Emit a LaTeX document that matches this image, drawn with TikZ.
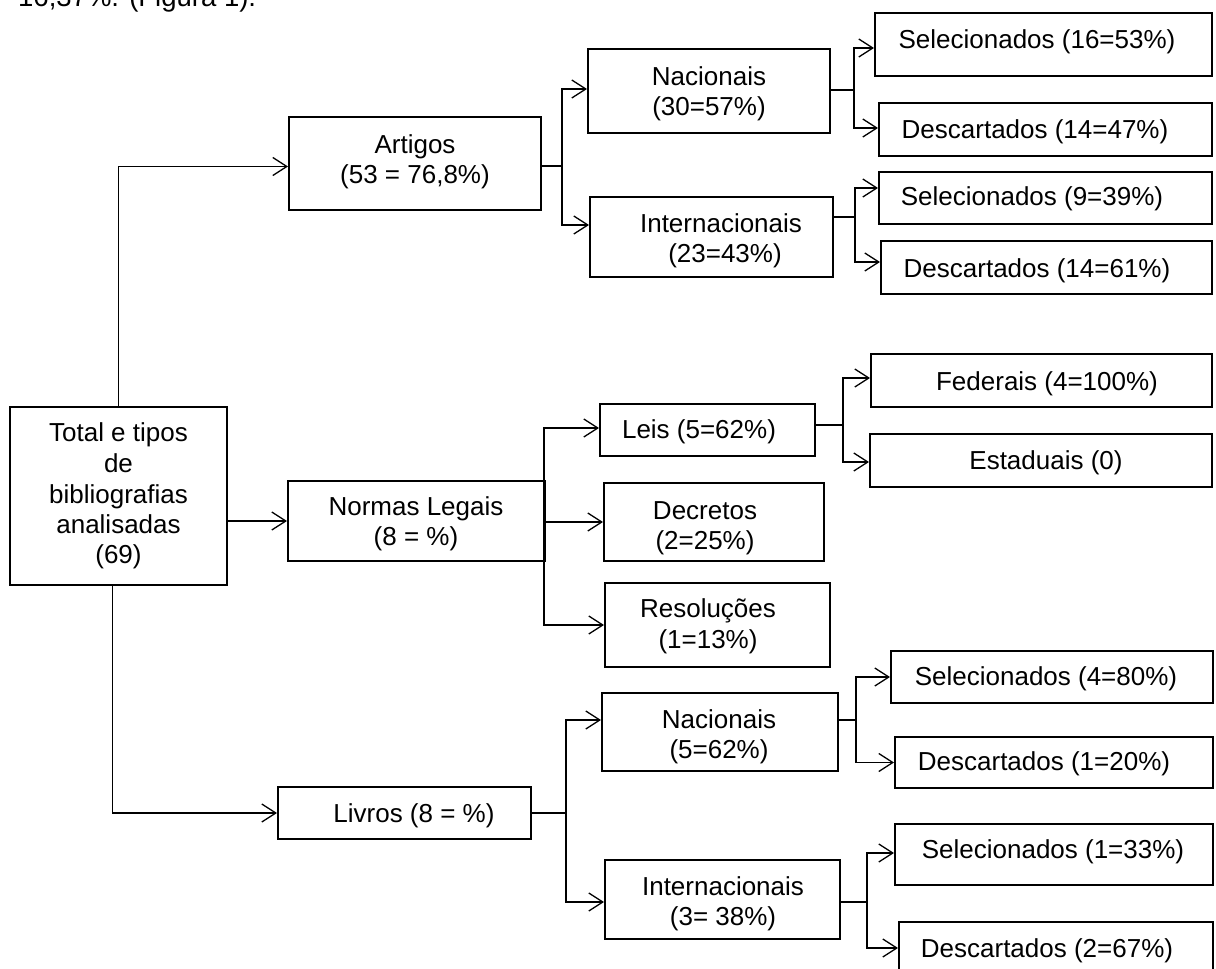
\documentclass[tikz,border=0pt]{standalone}
\usepackage{fontspec}
\setmainfont{Liberation Sans}
\usetikzlibrary{arrows.meta}
\tikzset{
  boxst/.style={draw, line width=2pt, inner sep=0pt, fill=white},
  txt/.style={font=\fontsize{26}{30}\selectfont, inner sep=0pt, anchor=base},
  conn/.style={line width=1.3pt},
  arr/.style={line width=1.3pt, -{Straight Barb[length=14pt,width=18pt]}},
  stub/.style={line width=2.3pt}
}
\begin{document}
\begin{tikzpicture}[x=1pt,y=-1pt]
\useasboundingbox (0,0) rectangle (1216,969);
\clip (0,0) rectangle (1216,969);
\fill[white] (0,0) rectangle (1216,969);

% top text line (cut off)
\node[txt, font=\fontsize{27.5}{30}\selectfont, anchor=base west] (toptxt) at (18,6) {16,37\%. (Figura 1).};

% boxes
\node[boxst, minimum width=217pt, minimum height=178pt] (total) at (118.5,496) {};
\node[boxst, minimum width=252pt, minimum height=93pt] (art) at (415,163.5) {};
\node[boxst, minimum width=257pt, minimum height=80pt] (norm) at (416.5,521) {};
\node[boxst, minimum width=253pt, minimum height=52pt] (liv) at (404.5,813) {};
\node[boxst, minimum width=242pt, minimum height=84pt] (nac1) at (709,91) {};
\node[boxst, minimum width=243pt, minimum height=80pt] (int1) at (711.5,237) {};
\node[boxst, minimum width=337pt, minimum height=63pt] (sel16) at (1043.5,44.5) {};
\node[boxst, minimum width=333pt, minimum height=53pt] (des14a) at (1045.5,129.5) {};
\node[boxst, minimum width=333pt, minimum height=52pt] (sel9) at (1045.5,198) {};
\node[boxst, minimum width=331pt, minimum height=53pt] (des14b) at (1046.5,267.5) {};
\node[boxst, minimum width=215pt, minimum height=52pt] (leis) at (707.5,430) {};
\node[boxst, minimum width=220pt, minimum height=78pt] (dec) at (714,522) {};
\node[boxst, minimum width=225pt, minimum height=84pt] (res) at (717.5,625) {};
\node[boxst, minimum width=341pt, minimum height=53pt] (fed) at (1041.5,380.5) {};
\node[boxst, minimum width=342pt, minimum height=53pt] (est) at (1041,460.5) {};
\node[boxst, minimum width=236pt, minimum height=78pt] (nac2) at (720,732) {};
\node[boxst, minimum width=235pt, minimum height=79pt] (int2) at (722.5,899.5) {};
\node[boxst, minimum width=322pt, minimum height=52pt] (sel4) at (1052,677) {};
\node[boxst, minimum width=318pt, minimum height=51pt] (des1) at (1054,762.5) {};
\node[boxst, minimum width=318pt, minimum height=61pt] (sel1) at (1054,854.5) {};
\node[boxst, minimum width=314pt, minimum height=68pt] (des2) at (1056,956) {};

% texts
\node[txt] (t1a) at (118.5,441) {Total e tipos};
\node[txt] (t1b) at (118.5,472) {de};
\node[txt] (t1c) at (118.5,503) {bibliografias};
\node[txt] (t1d) at (118.5,533) {analisadas};
\node[txt] (t1e) at (118.5,563) {(69)};
\node[txt] (tarta) at (415,153) {Artigos};
\node[txt] (tartb) at (415,183) {(53 = 76,8\%)};
\node[txt] (tnorma) at (416,515) {Normas Legais};
\node[txt] (tnormb) at (416,545) {(8 = \%)};
\node[txt] (tliv) at (414,822) {Livros (8 = \%)};
\node[txt] (tnac1a) at (709,85) {Nacionais};
\node[txt] (tnac1b) at (709,115) {(30=57\%)};
\node[txt] (tint1a) at (721,232) {Internacionais};
\node[txt] (tint1b) at (725,262) {(23=43\%)};
\node[txt] (tsel16) at (1037,48) {Selecionados (16=53\%)};
\node[txt] (tdes14a) at (1035,138) {Descartados (14=47\%)};
\node[txt] (tsel9) at (1032,205) {Selecionados (9=39\%)};
\node[txt] (tdes14b) at (1037,277) {Descartados (14=61\%)};
\node[txt] (tleis) at (699,438) {Leis (5=62\%)};
\node[txt] (tdeca) at (705,519) {Decretos};
\node[txt] (tdecb) at (705,549) {(2=25\%)};
\node[txt] (tresa) at (708,617) {Resoluções};
\node[txt] (tresb) at (708,648) {(1=13\%)};
\node[txt] (tfed) at (1047,390) {Federais (4=100\%)};
\node[txt] (test) at (1046,469) {Estaduais (0)};
\node[txt] (tnac2a) at (719,728) {Nacionais};
\node[txt] (tnac2b) at (719,758) {(5=62\%)};
\node[txt] (tint2a) at (723,895) {Internacionais};
\node[txt] (tint2b) at (723,925) {(3= 38\%)};
\node[txt] (tsel4) at (1046,685) {Selecionados (4=80\%)};
\node[txt] (tdes1) at (1044,770) {Descartados (1=20\%)};
\node[txt] (tsel1) at (1053,858) {Selecionados (1=33\%)};
\node[txt] (tdes2) at (1047,957) {Descartados (2=67\%)};

% branch points
\coordinate (ba) at (562,165.7);
\coordinate (bn1) at (854,90);
\coordinate (bi1) at (855,217);
\coordinate (bn) at (544,522);
\coordinate (bl) at (843,425);
\coordinate (bv) at (566,812.7);
\coordinate (bn2) at (856,720);
\coordinate (bi2) at (867,902);

% from total
\draw[arr] (total.north) |- ([yshift=-3pt]art.west);
\draw[arr] (total.east |- norm.west) -- (norm.west);
\draw[arr] ([xshift=-6pt]total.south) |- (liv.west);

% stubs
\draw[stub] (art.east |- ba) -- (ba);
\draw[stub] (nac1.east |- bn1) -- (bn1);
\draw[stub] (int1.east |- bi1) -- (bi1);
\draw[stub] (leis.east |- bl) -- (bl);
\draw[stub] (liv.east |- bv) -- (bv);
\draw[stub] (nac2.east |- bn2) -- (bn2);
\draw[stub] (int2.east |- bi2) -- (bi2);

% branches
\draw[arr] (ba) |- ([yshift=2pt]nac1.west);
\draw[arr] (ba) |- ([yshift=12pt]int1.west);
\draw[arr] (bn1) |- ([yshift=-3.5pt]sel16.west);
\draw[arr] (bn1) |- ([yshift=1.5pt]des14a.west);
\draw[arr] (bi1) |- ([yshift=10pt]sel9.west);
\draw[arr] (bi1) |- ([yshift=5.5pt]des14b.west);
\draw[arr] (bn) |- ([yshift=2pt]leis.west);
\draw[arr] (bn) -- (dec.west);
\draw[arr] (bn) |- (res.west);
\draw[arr] (bl) |- ([yshift=2.5pt]fed.west);
\draw[arr] (bl) |- ([yshift=-1.5pt]est.west);
\draw[arr] (bv) |- ([yshift=12pt]nac2.west);
\draw[arr] (bv) |- ([yshift=-2.5pt]int2.west);
\draw[arr] (bn2) |- (sel4.west);
\draw[arr] (bn2) |- (des1.west);
\draw[arr] (bi2) |- ([yshift=1.5pt]sel1.west);
\draw[arr] (bi2) |- ([yshift=8pt]des2.west);
\end{tikzpicture}
\end{document}
